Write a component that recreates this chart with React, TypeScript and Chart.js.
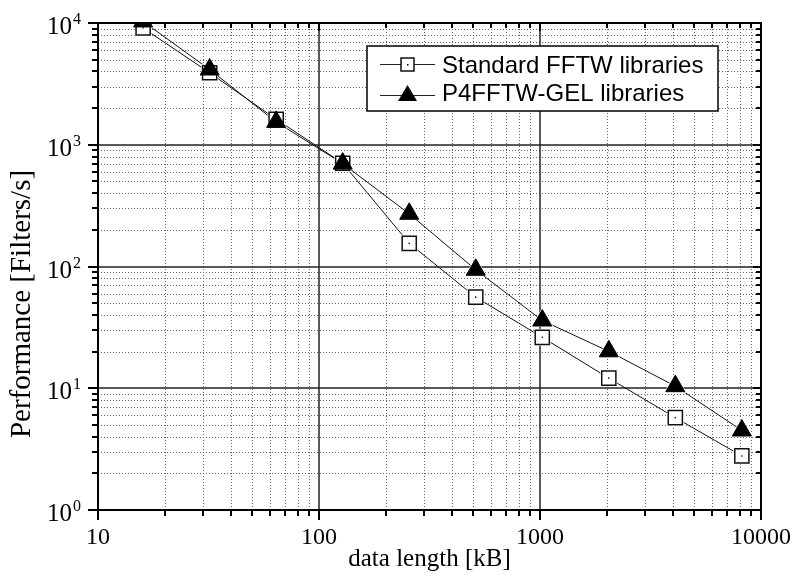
import React, { useEffect, useRef } from "react";
import { Chart, registerables } from "chart.js";

Chart.register(...registerables);

// ---- data ----
const dataLengthKB = [16, 32, 64, 128, 256, 512, 1024, 2048, 4096, 8192];
const standardFFTW = [9100, 3900, 1620, 705, 155, 56, 26.2, 12.1, 5.73, 2.78];
const p4fftwGEL = [10300, 4150, 1540, 700, 271, 94, 36, 20.1, 10.4, 4.5];

const seriesNames = ["Standard FFTW libraries", "P4FFTW-GEL libraries"];
const xTickValues = [10, 100, 1000, 10000];
const xTickLabels = ["10", "100", "1000", "10000"];
const yTickValues = [1, 10, 100, 1000, 10000];
const yTickBase = "10";
const yTickExponents = ["0", "1", "2", "3", "4"];
const xTitle = "data length [kB]";
const yTitle = "Performance [Filters/s]";

const SERIF = "'Liberation Serif', 'Times New Roman', serif";
const SANS = "'Liberation Sans', Arial, sans-serif";

function minorValues(decades: number[]): number[] {
  const out: number[] = [];
  for (const d of decades) for (let k = 2; k <= 9; k++) out.push(d * k);
  return out;
}

const decorPlugin = {
  id: "decor",
  beforeDatasetsDraw(chart: any) {
    const { ctx, chartArea: a, scales } = chart;
    const x = scales.x;
    const y = scales.y;
    ctx.save();
    // minor dotted grid
    ctx.strokeStyle = "#666";
    ctx.lineWidth = 1;
    ctx.setLineDash([1, 2]);
    for (const v of minorValues([10, 100, 1000])) {
      const px = Math.round(x.getPixelForValue(v)) + 0.5;
      ctx.beginPath();
      ctx.moveTo(px, a.top);
      ctx.lineTo(px, a.bottom);
      ctx.stroke();
    }
    for (const v of minorValues([1, 10, 100, 1000])) {
      const py = Math.round(y.getPixelForValue(v)) + 0.5;
      ctx.beginPath();
      ctx.moveTo(a.left, py);
      ctx.lineTo(a.right, py);
      ctx.stroke();
    }
    ctx.setLineDash([]);
    // major solid grid
    ctx.strokeStyle = "#222";
    ctx.lineWidth = 1.5;
    for (const v of xTickValues.slice(1, -1)) {
      const px = Math.round(x.getPixelForValue(v));
      ctx.beginPath();
      ctx.moveTo(px, a.top);
      ctx.lineTo(px, a.bottom);
      ctx.stroke();
    }
    for (const v of yTickValues.slice(1, -1)) {
      const py = Math.round(y.getPixelForValue(v));
      ctx.beginPath();
      ctx.moveTo(a.left, py);
      ctx.lineTo(a.right, py);
      ctx.stroke();
    }
    ctx.restore();
  },
  afterDatasetsDraw(chart: any) {
    const { ctx, chartArea: a, scales } = chart;
    const x = scales.x;
    const y = scales.y;
    ctx.save();
    // frame
    ctx.strokeStyle = "#000";
    ctx.lineWidth = 2;
    ctx.strokeRect(a.left, a.top, a.right - a.left, a.bottom - a.top);
    // ticks
    ctx.lineWidth = 2;
    const xMinor = minorValues([10, 100, 1000]);
    const yMinor = minorValues([1, 10, 100, 1000]);
    const seg = (x1: number, y1: number, x2: number, y2: number) => {
      ctx.beginPath();
      ctx.moveTo(x1, y1);
      ctx.lineTo(x2, y2);
      ctx.stroke();
    };
    for (const v of xMinor) {
      const px = Math.round(x.getPixelForValue(v));
      seg(px, a.bottom, px, a.bottom + 6);
      seg(px, a.top, px, a.top + 5);
    }
    for (const v of xTickValues) {
      const px = Math.round(x.getPixelForValue(v));
      seg(px, a.bottom, px, a.bottom + 10);
      seg(px, a.top, px, a.top + 8);
    }
    for (const v of yMinor) {
      const py = Math.round(y.getPixelForValue(v));
      seg(a.left - 6, py, a.left, py);
      seg(a.right - 5, py, a.right, py);
    }
    for (const v of yTickValues) {
      const py = Math.round(y.getPixelForValue(v));
      seg(a.left - 10, py, a.left, py);
      seg(a.right - 8, py, a.right, py);
    }
    // tick labels
    ctx.fillStyle = "#000";
    ctx.textBaseline = "alphabetic";
    ctx.font = `24px ${SERIF}`;
    ctx.textAlign = "center";
    xTickValues.forEach((v, i) => {
      ctx.fillText(xTickLabels[i], x.getPixelForValue(v), 544);
    });
    yTickValues.forEach((v, i) => {
      const py = y.getPixelForValue(v);
      ctx.font = `25px ${SERIF}`;
      ctx.textAlign = "right";
      ctx.fillText(yTickBase, 72, py + 11);
      ctx.font = `16px ${SERIF}`;
      ctx.textAlign = "left";
      ctx.fillText(yTickExponents[i], 73, py + 1);
    });
    // axis titles
    ctx.font = `25px ${SERIF}`;
    ctx.textAlign = "center";
    ctx.fillText(xTitle, (a.left + a.right) / 2, 566);
    ctx.save();
    ctx.font = `29px ${SERIF}`;
    ctx.translate(30, 304);
    ctx.rotate(-Math.PI / 2);
    ctx.fillText(yTitle, 0, 0);
    ctx.restore();
    ctx.restore();
  },
  afterDraw(chart: any) {
    const { ctx } = chart;
    ctx.save();
    // legend box
    ctx.fillStyle = "#fff";
    ctx.fillRect(367, 46, 351, 65);
    ctx.strokeStyle = "#000";
    ctx.lineWidth = 1.5;
    ctx.strokeRect(367, 46, 351, 65);
    // row 1
    ctx.lineWidth = 1;
    ctx.strokeStyle = "#222";
    ctx.beginPath();
    ctx.moveTo(380, 64.5);
    ctx.lineTo(435, 64.5);
    ctx.stroke();
    ctx.fillStyle = "#fff";
    ctx.fillRect(401, 58, 13, 13);
    ctx.lineWidth = 1.5;
    ctx.strokeStyle = "#111";
    ctx.strokeRect(401, 58, 13, 13);
    ctx.fillStyle = "#000";
    ctx.fillRect(407, 64, 1.5, 1.5);
    // row 2
    ctx.lineWidth = 1;
    ctx.strokeStyle = "#222";
    ctx.beginPath();
    ctx.moveTo(380, 95.5);
    ctx.lineTo(435, 95.5);
    ctx.stroke();
    ctx.fillStyle = "#000";
    ctx.beginPath();
    ctx.moveTo(407.5, 85);
    ctx.lineTo(417, 101);
    ctx.lineTo(398, 101);
    ctx.closePath();
    ctx.fill();
    // texts
    ctx.font = `24px ${SANS}`;
    ctx.textAlign = "left";
    ctx.textBaseline = "alphabetic";
    ctx.fillStyle = "#000";
    ctx.fillText(seriesNames[0], 442, 73);
    ctx.fillText(seriesNames[1], 442, 101);
    ctx.restore();
  },
};

export default function App() {
  const ref = useRef<HTMLCanvasElement | null>(null);

  useEffect(() => {
    if (!ref.current) return;
    const std = dataLengthKB.map((v, i) => ({ x: v, y: standardFFTW[i] }));
    const p4 = dataLengthKB.map((v, i) => ({ x: v, y: p4fftwGEL[i] }));
    const chart = new Chart(ref.current, {
      type: "line",
      data: {
        datasets: [
          {
            label: seriesNames[0] + " line",
            data: std,
            borderColor: "#111",
            borderWidth: 1,
            pointRadius: 0,
            order: 5,
            clip: 0,
          },
          {
            label: seriesNames[1] + " line",
            data: p4,
            borderColor: "#111",
            borderWidth: 1,
            pointRadius: 0,
            order: 5,
            clip: 0,
          },
          {
            label: "std halo",
            data: std,
            showLine: false,
            pointStyle: "rect",
            pointRadius: 12,
            pointBackgroundColor: "#fff",
            pointBorderColor: "#fff",
            pointBorderWidth: 0,
            order: 4,
            clip: 0,
          },
          {
            label: "p4 halo",
            data: p4,
            showLine: false,
            pointStyle: "triangle",
            pointRadius: 13,
            pointBackgroundColor: "#fff",
            pointBorderColor: "#fff",
            pointBorderWidth: 0,
            order: 4,
            clip: 0,
          },
          {
            label: seriesNames[0],
            data: std,
            showLine: false,
            pointStyle: "rect",
            pointRadius: 10,
            pointBackgroundColor: "#fff",
            pointBorderColor: "#111",
            pointBorderWidth: 1.5,
            order: 2,
            clip: 0,
          },
          {
            label: seriesNames[1],
            data: p4,
            showLine: false,
            pointStyle: "triangle",
            pointRadius: 11,
            pointBackgroundColor: "#000",
            pointBorderColor: "#000",
            pointBorderWidth: 1,
            order: 1,
            clip: 0,
          },
          {
            label: "std centre dot",
            data: std,
            showLine: false,
            pointStyle: "circle",
            pointRadius: 0.8,
            pointBackgroundColor: "#000",
            pointBorderWidth: 0,
            order: 0,
            clip: 0,
          },
        ],
      },
      options: {
        responsive: false,
        maintainAspectRatio: false,
        animation: false,
        devicePixelRatio: 1,
        layout: { padding: { left: 98, top: 23, right: 34, bottom: 67 } },
        plugins: {
          legend: { display: false },
          tooltip: { enabled: false },
        },
        events: [],
        scales: {
          x: { type: "logarithmic", min: 10, max: 10000, display: false },
          y: { type: "logarithmic", min: 1, max: 10000, display: false },
        },
      },
      plugins: [decorPlugin],
    });
    return () => chart.destroy();
  }, []);

  return (
    <div style={{ position: "absolute", left: 0, top: 0, width: 795, height: 577, background: "#fff" }}>
      <canvas ref={ref} width={795} height={577} style={{ display: "block", width: 795, height: 577 }} />
    </div>
  );
}
